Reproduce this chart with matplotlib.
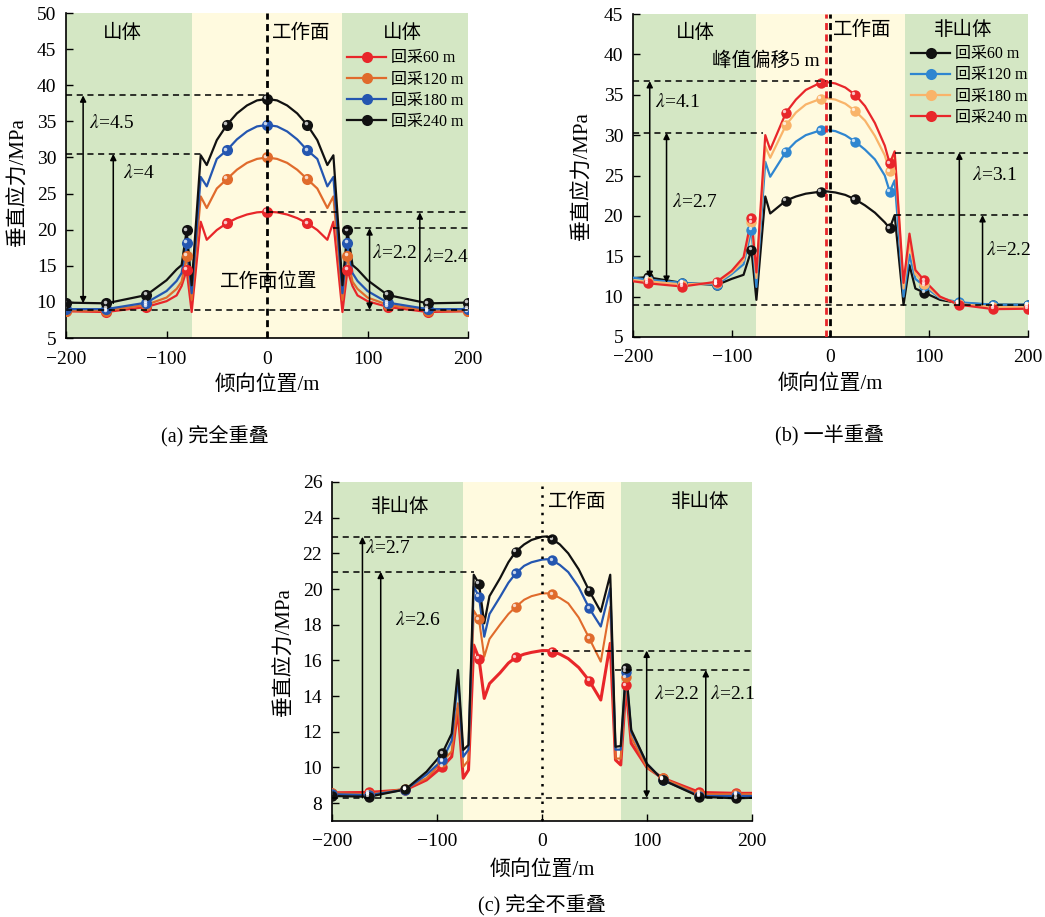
import matplotlib
matplotlib.use("Agg")
import matplotlib.pyplot as plt
from matplotlib.lines import Line2D
from matplotlib.transforms import offset_copy

plt.rcParams["font.family"] = ["Liberation Serif", "Noto Sans CJK SC"]
plt.rcParams["mathtext.fontset"] = "stix"

GREEN = "#d4e7c4"
YELLOW = "#fffadf"

# ── panel (a) 完全重叠 ──────────────────────────────────────────────
xa = [-200, -160, -120, -100, -90, -85, -80, -75, -66, -60, -50, -40, -30, -20, -10, 0,
      10, 20, 30, 40, 50, 60, 66, 75, 80, 85, 90, 100, 120, 160, 200]
a_red = [8.7, 8.6, 9.3, 10.1, 10.9, 12.2, 14.4, 8.6, 21.1, 18.6, 19.95, 20.9, 21.6, 22.1, 22.4, 22.5,
         22.4, 22.1, 21.6, 20.9, 19.95, 18.6, 21.1, 8.6, 14.4, 12.2, 10.9, 10.1, 9.3, 8.6, 8.7]
a_orange = [8.8, 8.8, 9.6, 10.6, 11.8, 12.8, 16.4, 10.3, 24.6, 23.0, 25.7, 27.0, 28.3, 29.25, 29.8, 30.0,
            29.8, 29.25, 28.3, 27.0, 25.7, 23.0, 24.6, 10.3, 16.4, 12.8, 11.8, 10.6, 9.6, 8.8, 8.8]
a_blue = [9.0, 9.0, 9.9, 11.5, 12.9, 14.0, 18.2, 11.2, 27.3, 26.0, 29.8, 31.0, 32.5, 33.6, 34.3, 34.5,
          34.3, 33.6, 32.5, 31.0, 29.8, 26.0, 27.3, 11.2, 18.2, 14.0, 12.9, 11.5, 9.9, 9.0, 9.0]
a_black = [9.9, 9.8, 10.95, 13.0, 14.5, 15.1, 19.9, 12.3, 30.3, 28.95, 32.4, 34.5, 36.1, 37.2, 37.9, 38.1,
           37.9, 37.2, 36.1, 34.5, 32.4, 28.95, 30.3, 12.3, 19.9, 15.1, 14.5, 13.0, 10.95, 9.8, 9.9]
a_marks = [-200, -160, -120, -80, -40, 0, 40, 80, 120, 160, 200]
a_hlines = [(38.6, -200, 0), (30.5, -200, -66), (8.9, -200, 200), (22.4, 0, 200), (20.2, 66, 200)]
a_arrows = [(-183, 9.8, 38.6, "<|-|>"), (-153, 9.8, 30.5, "-|>"),
            (102, 8.9, 20.2, "<|-|>"), (152, 8.9, 22.4, "-|>")]
a_lambda = [("4.5", -177, 34.8), ("4", -143, 27.8), ("2.2", 104, 16.8), ("2.4", 155, 16.2)]

# ── panel (b) 一半重叠 ──────────────────────────────────────────────
xb = [-200, -185, -150, -115, -100, -88, -80, -75, -66, -61, -45, -35, -25, -10, -5, 5,
      15, 25, 35, 45, 55, 60, 65, 74, 80, 86, 95, 111, 130, 165, 200]
b_black = [12.3, 12.4, 11.7, 11.45, 12.2, 12.7, 15.8, 9.6, 22.4, 20.3, 21.9, 22.4, 22.75, 23.0, 23.05, 22.9,
           22.6, 22.05, 21.3, 20.4, 19.2, 18.45, 20.1, 9.0, 13.9, 11.0, 10.5, 9.6, 9.2, 9.0, 9.0]
b_blue = [12.35, 12.1, 11.7, 11.5, 12.8, 14.0, 18.3, 11.2, 26.7, 24.85, 27.95, 29.2, 30.0, 30.6, 30.65, 30.5,
          30.0, 29.2, 28.2, 27.0, 25.0, 23.0, 24.4, 10.0, 15.2, 12.2, 11.3, 9.8, 9.3, 9.0, 9.0]
b_orange = [12.0, 11.9, 11.5, 11.7, 13.0, 14.5, 19.2, 12.3, 28.6, 27.2, 31.25, 32.8, 33.8, 34.5, 34.6, 34.4,
            33.9, 33.0, 31.8, 29.9, 27.5, 25.5, 27.6, 11.0, 16.8, 12.8, 11.6, 9.9, 9.1, 8.7, 8.7]
b_red = [11.9, 11.65, 11.25, 11.85, 13.2, 14.9, 19.7, 13.0, 30.0, 28.2, 32.8, 34.4, 35.6, 36.5, 36.6, 36.4,
         35.9, 35.0, 33.6, 31.5, 28.7, 26.5, 28.0, 11.7, 17.8, 13.3, 12.0, 10.0, 9.0, 8.45, 8.5]
b_marks = [-185, -150, -115, -80, -45, -10, 25, 60, 95, 130, 165, 200]
b_hlines = [(36.7, -200, -5), (30.3, -200, -68), (9.0, -200, 200), (27.85, 65, 200), (20.1, 65, 200)]
b_arrows = [(-183, 12.3, 36.7, "<|-|>"), (-166, 11.7, 30.3, "<|-|>"),
            (130.5, 9.0, 27.85, "-|>"), (154, 9.0, 20.1, "-|>")]
b_lambda = [("4.1", -178, 34.1), ("2.7", -160, 21.75), ("3.1", 143, 25.1), ("2.2", 158, 15.8)]

# ── panel (c) 完全不重叠 ────────────────────────────────────────────
xc = [-200, -165, -130, -110, -95, -86, -80, -75, -70, -65, -60, -55, -50, -40, -32, -25, -17, -10,
      0, 5, 10, 17, 25, 35, 45, 56, 65, 70, 75, 80, 85, 100, 115, 150, 185, 200]
c_red = [8.58, 8.6, 8.75, 9.3, 10.04, 10.6, 13.3, 9.4, 9.86, 16.86, 16.1, 13.87, 14.7, 15.3, 15.85, 16.17,
         16.35, 16.45, 16.55, 16.55, 16.49, 16.35, 16.1, 15.6, 14.86, 13.78, 16.96, 10.42, 10.14, 14.6,
         11.35, 10.0, 9.4, 8.6, 8.55, 8.55]
c_orange = [8.55, 8.5, 8.8, 9.4, 10.32, 10.9, 13.6, 10.04, 10.4, 18.8, 18.3, 16.2, 17.2, 18.0, 18.6, 19.0,
            19.4, 19.6, 19.75, 19.76, 19.7, 19.5, 19.2, 18.4, 17.24, 15.93, 19.0, 10.5, 10.5, 15.05,
            11.7, 10.0, 9.4, 8.5, 8.5, 8.5]
c_blue = [8.5, 8.45, 8.75, 9.6, 10.4, 11.5, 15.0, 10.6, 11.0, 20.13, 19.57, 17.33, 18.6, 19.55, 20.35, 20.88,
          21.3, 21.5, 21.65, 21.67, 21.6, 21.35, 20.95, 20.1, 18.92, 17.9, 20.04, 11.0, 11.0, 15.37,
          12.0, 10.2, 9.3, 8.4, 8.4, 8.4]
c_black = [8.4, 8.36, 8.77, 9.76, 10.79, 11.9, 15.46, 10.98, 11.26, 20.8, 20.3, 18.08, 19.6, 20.6, 21.5, 22.1,
           22.5, 22.75, 22.93, 22.95, 22.79, 22.5, 22.0, 21.1, 19.9, 18.73, 20.8, 11.16, 11.2, 15.55,
           12.1, 10.2, 9.3, 8.36, 8.27, 8.3]
c_marks = [-200, -165, -130, -95, -60, -25, 10, 45, 80, 115, 150, 185]
c_hlines = [(22.93, -200, 10), (20.97, -200, -65), (8.3, -200, 200), (16.55, 10, 200), (15.46, 70, 200)]
c_arrows = [(-171, 8.3, 22.93, "-|>"), (-153.6, 8.3, 20.97, "-|>"),
            (99.7, 8.3, 16.55, "<|-|>"), (156, 8.3, 15.46, "-|>")]
c_lambda = [("2.7", -168.6, 22.28), ("2.6", -140, 18.26), ("2.2", 106.7, 14.1), ("2.1", 160, 14.1)]

labels = ["回采60 m", "回采120 m", "回采180 m", "回采240 m"]
colors_ac = ["#e8262a", "#e06b2c", "#2456b0", "#111111"]
colors_b = ["#111111", "#2f86d0", "#f9b46a", "#e8262a"]

fig = plt.figure(figsize=(10.45, 9.17), dpi=100)
ax_a = fig.add_axes([0.0632, 0.6314, 0.3847, 0.3544])
ax_b = fig.add_axes([0.6057, 0.6325, 0.3780, 0.3522])
ax_c = fig.add_axes([0.3177, 0.1047, 0.4019, 0.3697])


def setup(ax, ylim, yticks, ylab_x, ylab_y=0.5):
    ax.axvspan(-200, -75, color=GREEN, lw=0, zorder=0)
    ax.axvspan(-75, 75, color=YELLOW, lw=0, zorder=0)
    ax.axvspan(75, 200, color=GREEN, lw=0, zorder=0)
    ax.set_xlim(-200, 200)
    ax.set_ylim(*ylim)
    ax.set_xticks([-200, -100, 0, 100, 200])
    ax.set_yticks(yticks)
    for s in ("top", "right"):
        ax.spines[s].set_visible(False)
    for s in ("left", "bottom"):
        ax.spines[s].set_linewidth(1.2)
    ax.tick_params(direction="in", length=5, width=1, labelsize=14, pad=7)
    ax.tick_params(axis="x", pad=9)
    ax.text(0.5, -0.145, "倾向位置/m", transform=ax.transAxes,
            ha="center", va="center", fontsize=15)
    ax.text(ylab_x, ylab_y, "垂直应力/MPa", transform=ax.transAxes, rotation=90,
            ha="center", va="center", fontsize=15)


def series(ax, x, y, marks, color, lw, ms):
    ax.plot(x, y, color=color, lw=lw, zorder=3)
    lookup = dict(zip(x, y))
    ym = [lookup[m] for m in marks]
    ax.plot(marks, ym, "o", color=color, ms=ms, mec="none", zorder=4)
    # small glint so the markers read as shaded balls
    shine = offset_copy(ax.transData, fig=fig, x=-1.2, y=1.2, units="points")
    ax.plot(marks, ym, "o", color="white", ms=ms * 0.32, mec="none",
            alpha=0.75, transform=shine, zorder=5)


def guides(ax, hlines, arrows, lams):
    for y, x0, x1 in hlines:
        ax.plot([x0, x1], [y, y], color="k", lw=1.1, dashes=(4, 3), zorder=6)
    for x, y0, y1, st in arrows:
        ax.annotate("", xy=(x, y1), xytext=(x, y0),
                    arrowprops=dict(arrowstyle=st, color="k", lw=1.1,
                                    mutation_scale=9, shrinkA=0, shrinkB=0),
                    zorder=6)
    for val, x, y in lams:
        ax.text(x, y, r"$\lambda$=" + val, ha="left", va="center", fontsize=14, zorder=7)


def legend(ax, colors, anchor):
    handles = [Line2D([0], [0], color=c, lw=1.6, marker="o", ms=8, mec="none")
               for c in colors]
    ax.legend(handles, labels, loc="upper left", bbox_to_anchor=anchor,
              frameon=False, fontsize=11.5, handlelength=2.4, handletextpad=0.3,
              labelspacing=0.32, borderpad=0, borderaxespad=0)


# (a)
setup(ax_a, (5, 50), range(5, 51, 5), -0.119, 0.48)
for y, c in zip([a_red, a_orange, a_blue, a_black], colors_ac):
    series(ax_a, xa, y, a_marks, c, 1.6, 8)
ax_a.axvline(0, color="k", lw=2, dashes=(2.5, 1.6), zorder=6)
guides(ax_a, a_hlines, a_arrows, a_lambda)
ax_a.text(-144, 47.2, "山体", ha="center", va="center", fontsize=14)
ax_a.text(135, 47.2, "山体", ha="center", va="center", fontsize=14)
ax_a.text(5, 47.3, "工作面", ha="left", va="center", fontsize=14)
ax_a.text(1.5, 12.8, "工作面位置", ha="center", va="center", fontsize=14)
legend(ax_a, colors_ac, (0.700, 0.885))

# (b)
setup(ax_b, (5, 45), range(5, 46, 5), -0.127)
for y, c in zip([b_black, b_blue, b_orange, b_red], colors_b):
    series(ax_b, xb, y, b_marks, c, 1.6, 7.5)
ax_b.axvline(-5, color="#e8262a", lw=2, dashes=(2.5, 1.6), zorder=6)
ax_b.axvline(0, color="k", lw=2, dashes=(2.5, 1.6), zorder=6)
guides(ax_b, b_hlines, b_arrows, b_lambda)
ax_b.text(-137, 42.6, "山体", ha="center", va="center", fontsize=14)
ax_b.text(2.5, 43.0, "工作面", ha="left", va="center", fontsize=14)
ax_b.text(134, 43.0, "非山体", ha="center", va="center", fontsize=14)
ax_b.text(-11, 39.2, "峰值偏移5 m", ha="right", va="center", fontsize=14, zorder=7)
legend(ax_b, colors_b, (0.705, 0.90))

# (c)
setup(ax_c, (7, 26), range(8, 27, 2), -0.112)
for y, c, lw in zip([c_red, c_orange, c_blue, c_black], colors_ac, [2.2, 1.5, 1.6, 1.6]):
    series(ax_c, xc, y, c_marks, c, lw, 7.5)
ax_c.axvline(0, color="k", lw=1.8, linestyle=(0, (1, 2.5)), zorder=6)
guides(ax_c, c_hlines, c_arrows, c_lambda)
ax_c.text(-135, 24.6, "非山体", ha="center", va="center", fontsize=14)
ax_c.text(151, 24.86, "非山体", ha="center", va="center", fontsize=14)
ax_c.text(6, 24.86, "工作面", ha="left", va="center", fontsize=14)

fig.text(0.2057, 0.5245, "(a) 完全重叠", ha="center", va="center", fontsize=14.5)
fig.text(0.794, 0.5245, "(b) 一半重叠", ha="center", va="center", fontsize=14.5)
fig.text(0.5187, 0.013, "(c) 完全不重叠", ha="center", va="center", fontsize=14.5)

fig.savefig("out.png", dpi=100)
